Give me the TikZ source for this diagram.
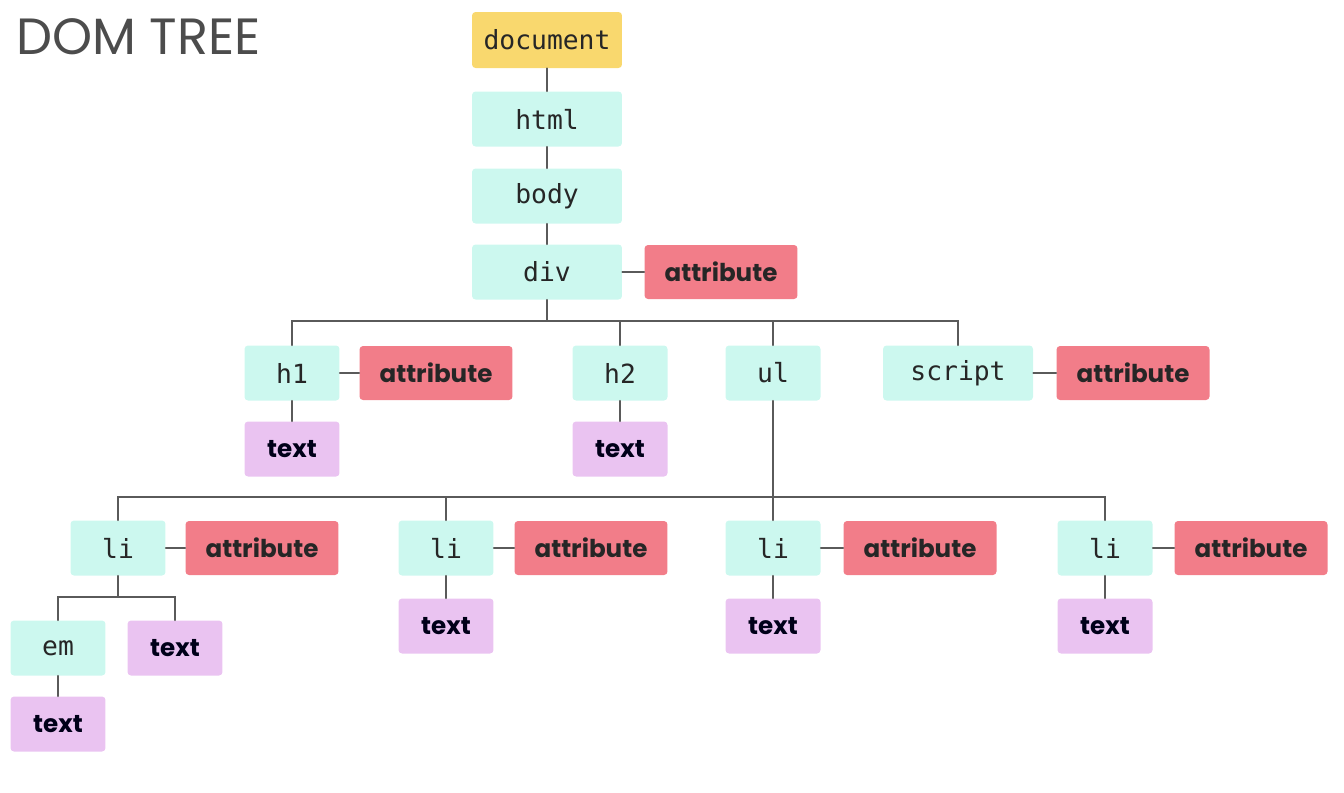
\documentclass[tikz,border=0pt]{standalone}
\usepackage{fontspec}
\setmainfont{Poppins}
\setmonofont{DejaVu Sans Mono}
\usetikzlibrary{positioning}

\begin{document}
\begin{tikzpicture}[x=0.02cm,y=-0.02cm,line cap=round,
  box/.style={inner sep=0pt,rounded corners=2pt,minimum height=1.1cm,text=black!85},
  element/.style={box,fill=elementcolor,minimum width=1.9cm,font=\ttfamily\fontsize{15}{15}\selectfont},
  wide element/.style={element,minimum width=3cm},
  attribute/.style={box,fill=attrcolor,minimum width=3.06cm,minimum height=1.08cm,font=\bfseries\fontsize{14}{14}\selectfont},
  text node/.style={box,fill=textcolor,minimum width=1.9cm,text=black!90!blue,font=\bfseries\fontsize{14}{14}\selectfont},
  branch/.style={draw=linecolor,line width=1.1pt}]
 \definecolor{doccolor}{HTML}{F9D86E}
 \definecolor{elementcolor}{HTML}{CCF8EF}
 \definecolor{attrcolor}{HTML}{F27D89}
 \definecolor{textcolor}{HTML}{EAC3F1}
 \definecolor{linecolor}{HTML}{5A5A5A}

 \useasboundingbox (0,0) rectangle (1344,792);

 \node[anchor=west,text=black!70,font=\fontsize{29}{29}\selectfont] (title) at (10,37) {DOM TREE};

 % top of the tree
 \node[wide element,fill=doccolor,minimum height=1.12cm] (document) at (547,40) {document};
 \node[wide element] (html) at (547,119) {html};
 \node[wide element] (body) at (547,196) {body};
 \node[wide element] (div) at (547,272) {div};
 \node[attribute] (div attr) at (721,272) {attribute};

 % children of div
 \node[element] (h1) at (292,373) {h1};
 \node[attribute] (h1 attr) at (436,373) {attribute};
 \node[text node] (h1 text) at (292,449) {text};
 \node[element] (h2) at (620,373) {h2};
 \node[text node] (h2 text) at (620,449) {text};
 \node[element] (ul) at (773,373) {ul};
 \node[wide element] (script) at (958,373) {script};
 \node[attribute] (script attr) at (1133,373) {attribute};

 % list items
 \foreach \i/\x/\ax in {1/118/262,2/446/591,3/773/920,4/1105/1251} {
    \node[element] (li\i) at (\x,548) {li};
    \node[attribute] (li\i attr) at (\ax,548) {attribute};
 }
 \foreach \i/\x in {2/446,3/773,4/1105}
    \node[text node] (li\i text) at (\x,626) {text};
 \node[element] (em) at (58,648) {em};
 \node[text node] (li1 text) at (175,648) {text};
 \node[text node] (em text) at (58,724) {text};

 \coordinate (div bus) at (547,321);
 \coordinate (ul bus) at (773,497);
 \coordinate (li bus) at (118,597);

 \draw[branch] (document) -- (html);
 \draw[branch] (html) -- (body);
 \draw[branch] (body) -- (div);
 \draw[branch] (div) -- (div attr);
 \draw[branch] (div) -- (div bus);
 \foreach \n in {h1,h2,ul,script}
    \draw[branch] (\n.north) |- (div bus);
 \draw[branch] (h1) -- (h1 attr);
 \draw[branch] (h1) -- (h1 text);
 \draw[branch] (h2) -- (h2 text);
 \draw[branch] (script) -- (script attr);
 \draw[branch] (ul) -- (ul bus);
 \foreach \i in {1,...,4} {
    \draw[branch] (li\i.north) |- (ul bus);
    \draw[branch] (li\i) -- (li\i attr);
 }
 \foreach \i in {2,3,4}
    \draw[branch] (li\i) -- (li\i text);
 \draw[branch] (li1) -- (li bus);
 \draw[branch] (em.north) |- (li bus);
 \draw[branch] (li1 text.north) |- (li bus);
 \draw[branch] (em) -- (em text);
\end{tikzpicture}
\end{document}
